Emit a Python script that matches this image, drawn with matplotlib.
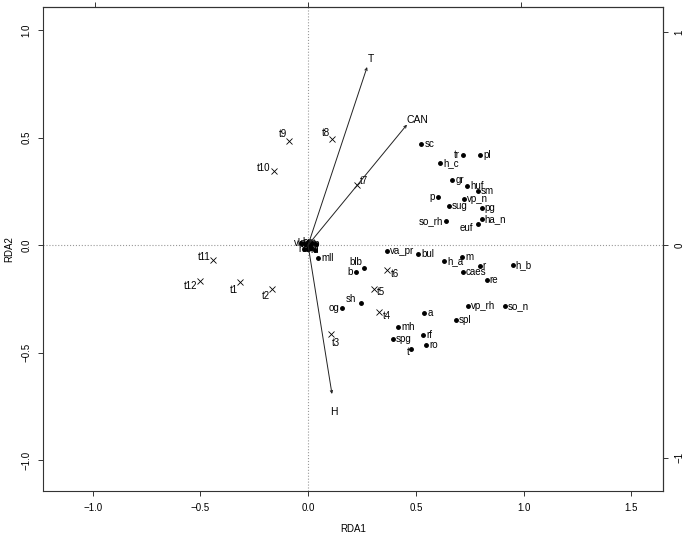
import matplotlib
matplotlib.use("Agg")
import matplotlib.pyplot as plt

plt.rcParams['font.family'] = ['Liberation Sans', 'DejaVu Sans']
plt.rcParams['font.size'] = 7

# ---------------------------------------------------------------
# Datos (escala RDA1 / RDA2)
# ---------------------------------------------------------------

# especies (puntos)
sp_names = ["sc", "tr", "pl", "h_c", "gr", "huf", "sm", "p", "vp_n", "sug",
            "pg", "so_rh", "ha_n", "euf", "va_pr", "bul", "h_a", "m", "r",
            "h_b", "caes", "re", "blb", "b", "sh", "og", "vp_rh", "so_n",
            "a", "spl", "mh", "rf", "spg", "ro", "t", "mll"]
sp_x = [0.525, 0.719, 0.800, 0.613, 0.669, 0.738, 0.788, 0.603, 0.723, 0.654,
        0.806, 0.641, 0.806, 0.788, 0.364, 0.510, 0.631, 0.714, 0.797,
        0.949, 0.719, 0.829, 0.258, 0.221, 0.244, 0.157, 0.742, 0.912,
        0.539, 0.687, 0.419, 0.535, 0.392, 0.548, 0.479, 0.046]
sp_y = [0.470, 0.419, 0.419, 0.381, 0.302, 0.274, 0.251, 0.223, 0.214, 0.181,
        0.172, 0.112, 0.121, 0.098, -0.028, -0.042, -0.074, -0.056, -0.098,
        -0.093, -0.126, -0.163, -0.107, -0.126, -0.270, -0.293, -0.284, -0.284,
        -0.316, -0.349, -0.381, -0.419, -0.437, -0.465, -0.484, -0.060]

# especies amontonadas cerca del origen
near_names = ["vla", "vh", "bp", "sn", "ip", "ha", "lo", "fd", "rd", "cr"]
near_x = [-0.035, -0.015, 0.000, 0.020, 0.038, -0.020, 0.000, 0.015, 0.030, 0.010]
near_y = [0.008, 0.005, 0.012, 0.008, 0.006, -0.018, -0.020, -0.015, -0.022, -0.005]

# sitios (cruces)
site_names = ["t1", "t2", "t3", "t4", "t5", "t6", "t7", "t8", "t9", "t10", "t11", "t12"]
site_x = [-0.318, -0.166, 0.106, 0.327, 0.304, 0.364, 0.226, 0.110, -0.088, -0.160, -0.440, -0.500]
site_y = [-0.172, -0.205, -0.414, -0.312, -0.205, -0.116, 0.279, 0.493, 0.484, 0.344, -0.070, -0.167]

# variables ambientales (flechas)
env_names = ["T", "CAN", "H"]
env_x = [0.274, 0.459, 0.111]
env_y = [0.828, 0.560, -0.693]

# ---------------------------------------------------------------
# Colocacion de etiquetas (px, y hacia arriba)
# ---------------------------------------------------------------
PX = 0.72
sp_off = {"tr": (-3, 0, "right"), "p": (-3, 0, "right"), "so_rh": (-3, 0, "right"),
          "b": (-3, 0, "right"), "og": (-3, 0, "right"),
          "blb": (-1, 6, "right"), "sh": (-5, 4, "right"),
          "euf": (-5, -4, "right"), "t": (-2, -3, "right")}
site_off = {"t1": (-6, -8), "t2": (-6, -7), "t3": (5, -9), "t4": (8, -4),
            "t5": (7, -3), "t6": (8, -4), "t7": (7, 4), "t8": (-6, 6),
            "t9": (-6, 7), "t10": (-10, 3), "t11": (-9, 3), "t12": (-10, -5)}
env_off = {"T": (4, 8), "CAN": (10, 5), "H": (2, -18)}

fig = plt.figure(figsize=(6.85, 5.35), dpi=100)
ax = fig.add_axes([43 / 685, 44 / 535, 620 / 685, 484 / 535])

ax.set_xlim(-1.23, 1.647)
ax.set_ylim(-1.144, 1.107)

ax.axhline(0, color='#999999', ls=':', lw=0.8, zorder=0)
ax.axvline(0, color='#999999', ls=':', lw=0.8, zorder=0)

# especies
ax.plot(sp_x, sp_y, 'o', color='black', ms=2.5, ls='none')
for nm, x, y in zip(sp_names, sp_x, sp_y):
    dx, dy, ha = sp_off.get(nm, (3, 0, "left"))
    ax.annotate(nm, (x, y), xytext=(dx * PX, dy * PX), textcoords='offset points',
                ha=ha, va='center')

ax.plot(near_x, near_y, 'o', color='black', ms=2.5, ls='none')
for nm, x, y in zip(near_names, near_x, near_y):
    ax.annotate(nm, (x, y), ha='center', va='center')

# sitios
ax.plot(site_x, site_y, 'x', color='black', ms=4, mew=0.6, ls='none')
for nm, x, y in zip(site_names, site_x, site_y):
    dx, dy = site_off[nm]
    ax.annotate(nm, (x, y), xytext=(dx * PX, dy * PX), textcoords='offset points',
                ha='center', va='center')

# flechas
for nm, x, y in zip(env_names, env_x, env_y):
    ax.annotate("", xy=(x, y), xytext=(0, 0),
                arrowprops=dict(arrowstyle='->,head_length=0.25,head_width=0.12',
                                color='#222222', lw=0.7, shrinkA=0, shrinkB=0))
    dx, dy = env_off[nm]
    ax.annotate(nm, (x, y), xytext=(dx * PX, dy * PX), textcoords='offset points',
                ha='center', va='center', fontsize=7.5)

# ejes
for s in ax.spines.values():
    s.set_color('#333333')
    s.set_linewidth(0.8)

ax.set_xticks([-1.0, -0.5, 0.0, 0.5, 1.0, 1.5])
ax.set_yticks([-1.0, -0.5, 0.0, 0.5, 1.0])
ax.set_xticklabels(["\u22121.0", "\u22120.5", "0.0", "0.5", "1.0", "1.5"])
ax.set_yticklabels(["\u22121.0", "\u22120.5", "0.0", "0.5", "1.0"], rotation=90, va='center')
ax.tick_params(length=3.5, width=0.7, color='#333333', pad=5)

k = 0.99
top = ax.secondary_xaxis('top', functions=(lambda v: v / k, lambda v: v * k))
top.set_xticks([-1, 0, 1])
top.set_xticklabels([])
top.tick_params(length=3.5, width=0.7, color='#333333')
right = ax.secondary_yaxis('right', functions=(lambda v: v / k, lambda v: v * k))
right.set_yticks([-1, 0, 1])
right.set_yticklabels(["\u22121", "0", "1"], rotation=90, va='center')
right.tick_params(length=3.5, width=0.7, color='#333333', pad=5)
for s in list(top.spines.values()) + list(right.spines.values()):
    s.set_color('#333333')
    s.set_linewidth(0.8)

ax.set_xlabel("RDA1")
ax.set_ylabel("RDA2")
ax.xaxis.set_label_coords(0.5, -0.068)
ax.yaxis.set_label_coords(-0.047, 0.5)

fig.savefig("out.png", dpi=100)
